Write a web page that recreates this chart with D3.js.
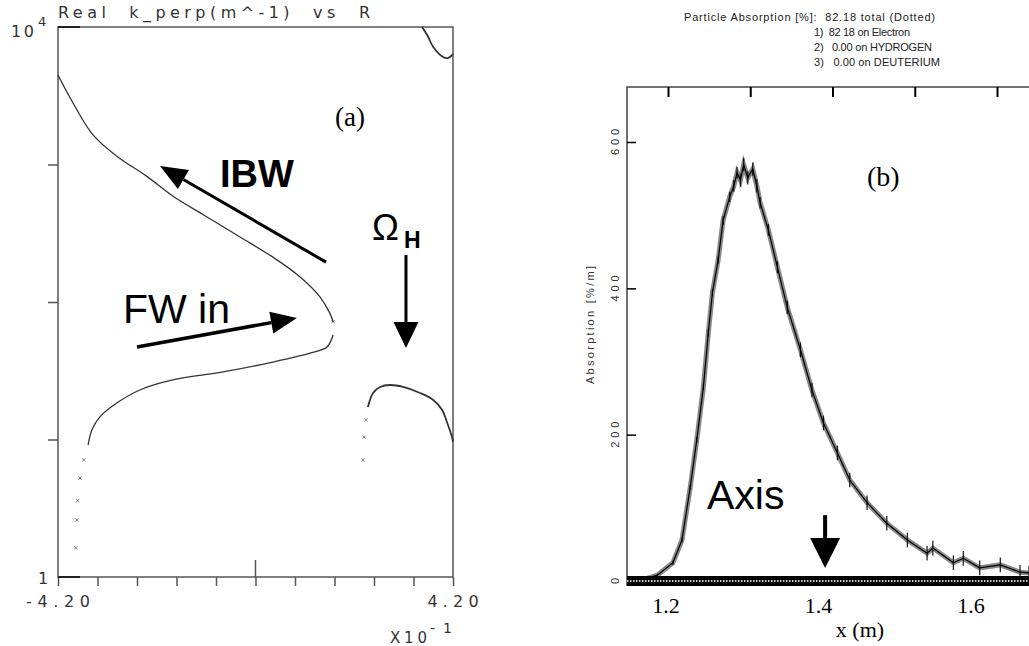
<!DOCTYPE html>
<html>
<head>
<meta charset="utf-8">
<script src="https://cdn.jsdelivr.net/npm/d3@7"></script>
<style>
body { margin: 0; background: #fff; }
svg { display: block; }
</style>
</head>
<body>
<svg id="chart" width="1029" height="646"></svg>
<script>
// panel (a): Real k_perp (m^-1) vs R [R, k]
var ibwBranch = [[-0.420, 4477], [-0.388, 2800], [-0.346, 1650], [-0.295, 1150], [-0.231, 820],
    [-0.176, 590], [-0.103, 415], [-0.033, 297], [0.037, 212], [0.095, 152], [0.137, 109],
    [0.158, 83], [0.165, 72]];
var fwBranch = [[0.165, 57.5], [0.152, 47], [0.122, 43], [0.037, 36.6], [-0.069, 31],
    [-0.176, 27.1], [-0.246, 22.9], [-0.295, 18.4], [-0.331, 14.6], [-0.348, 11.7], [-0.356, 9.1]];
var fwDots = [[-0.365, 7.1], [-0.373, 5.25], [-0.378, 3.6], [-0.380, 2.6], [-0.382, 1.63]];
var cornerBranch = [[0.354, 10000], [0.365, 8750], [0.378, 7160], [0.399, 6050], [0.409, 5950], [0.420, 6360]];
var humpDots = [[0.229, 7.1], [0.231, 10.4], [0.235, 13.9]];
var humpBranch = [[0.239, 17.2], [0.250, 21.8], [0.265, 24.1], [0.286, 24.9], [0.314, 24.1],
    [0.350, 21.8], [0.378, 19.4], [0.397, 16.4], [0.407, 13.4], [0.418, 10.4], [0.420, 9.6]];

var aXTicks = d3.range(11).map(function (i) { return -0.42 + i * 0.084; });
var aYTicks = [10, 100, 1000];
var aXLabels = ["-4.20", "4.20"];

// panel (b): absorption profile [%/m] vs x (m)
var absX = [1.150, 1.170, 1.187, 1.206, 1.217, 1.227, 1.235, 1.243, 1.249, 1.254, 1.261, 1.267,
    1.275, 1.280, 1.284, 1.288, 1.292, 1.297, 1.303, 1.308, 1.312, 1.322, 1.333, 1.345, 1.361,
    1.375, 1.389, 1.406, 1.421, 1.442, 1.466, 1.491, 1.515, 1.522, 1.547, 1.559, 1.579, 1.604,
    1.628, 1.639];
var absY = [0, 2, 8, 25, 56, 128, 193, 265, 339, 394, 439, 493, 525, 540, 558, 548, 569, 551,
    563, 540, 517, 480, 429, 374, 316, 261, 216, 175, 138, 107, 79, 56, 38, 45, 25, 31, 18, 22,
    12, 11];
var absErr = [0, 0, 2, 3, 3, 3, 4, 4, 5, 5, 5, 6, 7, 8, 8, 9, 9, 9, 9, 9, 8, 8, 8, 9, 10, 10,
    10, 10, 10, 10, 10, 10, 10, 10, 10, 10, 10, 10, 10, 10];

var bTopTicks = [1.2, 1.3, 1.4, 1.5, 1.6];
var bXLabels = [1.2, 1.4, 1.6];
var bYTicks = [0, 200, 400, 600];
var legendLines = ["Particle Absorption [%]:  82.18 total (Dotted)",
    "1)  82 18 on Electron",
    "2)   0.00 on HYDROGEN",
    "3)   0.00 on DEUTERIUM"];

var svg = d3.select("#chart");
var monoFont = "'DejaVu Sans', sans-serif";
var sansFont = "'Liberation Sans', Arial, sans-serif";
var serifFont = "'Liberation Serif', 'Times New Roman', serif";

// arrows: shaft plus filled triangular head
function arrow(g, x1, y1, x2, y2, headLen, headHalf, w) {
    var dx = x2 - x1, dy = y2 - y1, L = Math.sqrt(dx * dx + dy * dy);
    var ux = dx / L, uy = dy / L;
    var bx = x2 - ux * headLen, by = y2 - uy * headLen;
    g.append("line")
        .attr("x1", x1).attr("y1", y1).attr("x2", bx).attr("y2", by)
        .style("stroke", "#000").style("stroke-width", w + "px");
    g.append("path")
        .attr("d", "M" + x2 + "," + y2 +
            "L" + (bx - uy * headHalf) + "," + (by + ux * headHalf) +
            "L" + (bx + uy * headHalf) + "," + (by - ux * headHalf) + "Z")
        .style("fill", "#000");
}

// ---------- panel (a) ----------
var xA = d3.scaleLinear().domain([-0.42, 0.42]).range([58, 453]);
var yA = d3.scaleLog().domain([1, 1e4]).range([577, 27]);

var gA = svg.append("g");

gA.append("rect")
    .attr("x", xA(-0.42)).attr("y", yA(1e4))
    .attr("width", xA(0.42) - xA(-0.42)).attr("height", yA(1) - yA(1e4))
    .style("fill", "none").style("stroke", "#555").style("stroke-width", "1.5px");

var axA = gA.append("g")
    .attr("transform", "translate(0," + yA(1) + ")")
    .call(d3.axisBottom(xA).tickValues(aXTicks).tickSize(9).tickFormat(""));
axA.select(".domain").remove();
axA.selectAll("line").style("stroke", "#555").style("stroke-width", "1.5px");

gA.append("line")
    .attr("x1", xA(0)).attr("x2", xA(0))
    .attr("y1", yA(1)).attr("y2", yA(1) - 17)
    .style("stroke", "#555").style("stroke-width", "1.5px");

var ayA = gA.append("g")
    .attr("transform", "translate(" + xA(-0.42) + ",0)")
    .call(d3.axisLeft(yA).tickValues(aYTicks).tickSize(10).tickFormat(""));
ayA.select(".domain").remove();
ayA.selectAll("line").style("stroke", "#555").style("stroke-width", "1.5px");

// short marks inside the corners
[1, 1e4].forEach(function (v) {
    gA.append("line")
        .attr("x1", xA(-0.42)).attr("x2", xA(-0.42) + 22)
        .attr("y1", yA(v)).attr("y2", yA(v))
        .style("stroke", "#222").style("stroke-width", "2px");
});

gA.append("text")
    .attr("x", xA(-0.42)).attr("y", 18)
    .attr("textLength", 312).attr("lengthAdjust", "spacing")
    .style("font-family", monoFont).style("font-size", "16px").style("fill", "#333")
    .style("white-space", "pre")
    .text("Real  k_perp(m^-1)  vs  R");

gA.append("text").attr("x", 11).attr("y", 37)
    .attr("textLength", 23).attr("lengthAdjust", "spacing")
    .style("font-family", monoFont).style("font-size", "16px").style("fill", "#333").text("10");
gA.append("text").attr("x", 38).attr("y", 26)
    .style("font-family", monoFont).style("font-size", "13px").style("fill", "#333").text("4");
gA.append("text").attr("x", 38).attr("y", 584)
    .style("font-family", monoFont).style("font-size", "16px").style("fill", "#333").text("1");

gA.selectAll("text.xlab")
    .data(aXLabels)
    .enter().append("text")
    .attr("class", "xlab")
    .attr("x", function (d, i) { return xA(i === 0 ? -0.42 : 0.42); })
    .attr("y", 607)
    .attr("text-anchor", "middle")
    .attr("textLength", function (d) { return d.length * 12.8; })
    .attr("lengthAdjust", "spacing")
    .style("font-family", monoFont).style("font-size", "16px").style("fill", "#333")
    .text(function (d) { return d; });

gA.append("text").attr("x", 390).attr("y", 643)
    .attr("textLength", 37).attr("lengthAdjust", "spacing")
    .style("font-family", monoFont).style("font-size", "15px").style("fill", "#333").text("X10");
gA.append("text").attr("x", 430).attr("y", 633)
    .attr("textLength", 22).attr("lengthAdjust", "spacing")
    .style("font-family", monoFont).style("font-size", "14px").style("fill", "#333").text("-1");

var lineA = d3.line()
    .x(function (d) { return xA(d[0]); })
    .y(function (d) { return yA(d[1]); })
    .curve(d3.curveCatmullRom);

[ibwBranch, fwBranch, cornerBranch, humpBranch].forEach(function (b, i) {
    gA.append("path")
        .datum(b)
        .attr("d", lineA)
        .style("fill", "none")
        .style("stroke", "#333")
        .style("stroke-width", i >= 2 ? "1.8px" : "1.3px");
});

var xMark = d3.symbol().type(d3.symbolX).size(8);
gA.selectAll("path.dot")
    .data(fwDots.concat(humpDots, [ibwBranch[ibwBranch.length - 1]]))
    .enter().append("path")
    .attr("class", "dot")
    .attr("d", xMark)
    .attr("transform", function (d) { return "translate(" + xA(d[0]) + "," + yA(d[1]) + ")"; })
    .style("fill", "none").style("stroke", "#555").style("stroke-width", "0.8px");

arrow(gA, xA(0.150), yA(195), xA(-0.203), yA(975), 27, 11, 3);
arrow(gA, xA(-0.252), yA(47.1), xA(0.088), yA(76.5), 26, 11, 3.5);
arrow(gA, xA(0.320), yA(220), xA(0.320), yA(46.3), 26, 12.5, 3);

gA.append("text").attr("x", xA(0.201)).attr("y", yA(1905))
    .attr("text-anchor", "middle")
    .style("font-family", serifFont).style("font-size", "27px").text("(a)");
gA.append("text").attr("x", xA(-0.0755)).attr("y", yA(686))
    .style("font-family", sansFont).style("font-size", "38px").style("font-weight", "bold").text("IBW");
gA.append("text").attr("x", xA(-0.2818)).attr("y", yA(70.3))
    .style("font-family", sansFont).style("font-size", "41px").text("FW in");
gA.append("text").attr("x", xA(0.2478)).attr("y", yA(282))
    .style("font-family", sansFont).style("font-size", "36px").text("Ω");
gA.append("text").attr("x", xA(0.3158)).attr("y", yA(247))
    .style("font-family", sansFont).style("font-size", "23px").style("font-weight", "bold").text("H");

// ---------- panel (b) ----------
var xB = d3.scaleLinear().domain([1.2, 1.6]).range([668, 997]);
var xBLabel = d3.scaleLinear().domain([1.2, 1.6]).range([666, 971]);
var yB = d3.scaleLinear().domain([0, 600]).range([581, 142]);

var gB = svg.append("g");
var bLeft = 627, bTop = 87;

gB.append("path")
    .attr("d", "M" + bLeft + "," + (yB(0) + 5) + "V" + bTop + "H1029")
    .style("fill", "none").style("stroke", "#444").style("stroke-width", "1.5px");

var axB = gB.append("g")
    .attr("transform", "translate(0," + bTop + ")")
    .call(d3.axisTop(xB).tickValues(bTopTicks).tickSize(-10).tickFormat(""));
axB.select(".domain").remove();
axB.selectAll("line").style("stroke", "#000").style("stroke-width", "2px");

var ayB = gB.append("g")
    .attr("transform", "translate(" + bLeft + ",0)")
    .call(d3.axisLeft(yB).tickValues(bYTicks).tickSize(-9).tickFormat(""));
ayB.select(".domain").remove();
ayB.selectAll("line").style("stroke", "#000").style("stroke-width", "1.5px");

ayB.selectAll("text.ylab")
    .data(bYTicks)
    .enter().append("text")
    .attr("class", "ylab")
    .attr("transform", function (d) { return "translate(" + (-8) + "," + yB(d) + ") rotate(-90)"; })
    .attr("text-anchor", "middle")
    .attr("textLength", function (d) { return String(d).length * 8.7; })
    .attr("lengthAdjust", "spacing")
    .style("font-family", sansFont).style("font-size", "11px").style("fill", "#333")
    .text(function (d) { return d; });

gB.append("text")
    .attr("transform", "translate(594,325) rotate(-90)")
    .attr("text-anchor", "middle")
    .attr("textLength", 118).attr("lengthAdjust", "spacing")
    .style("font-family", sansFont).style("font-size", "11px").style("fill", "#333")
    .text("Absorption [%/m]");

gB.selectAll("text.leg")
    .data(legendLines)
    .enter().append("text")
    .attr("class", "leg")
    .attr("x", function (d, i) { return i === 0 ? 684 : 814; })
    .attr("y", function (d, i) { return 21 + i * 15; })
    .attr("textLength", function (d, i) { return [251, 96, 118, 126][i]; })
    .attr("lengthAdjust", "spacing")
    .style("font-family", sansFont).style("font-size", "11px").style("fill", "#222")
    .style("white-space", "pre")
    .text(function (d) { return d; });

var absData = absX.map(function (x, i) { return { x: x, y: absY[i], e: absErr[i] }; });

var lineB = d3.line()
    .x(function (d) { return xB(d.x); })
    .y(function (d) { return yB(d.y); })
    .curve(d3.curveLinear);

gB.append("path")
    .datum(absData)
    .attr("d", lineB)
    .style("fill", "none").style("stroke", "#888").style("stroke-width", "5px");

gB.selectAll("line.err")
    .data(absData.filter(function (d) { return d.e > 0; }))
    .enter().append("line")
    .attr("class", "err")
    .attr("x1", function (d) { return xB(d.x); })
    .attr("x2", function (d) { return xB(d.x); })
    .attr("y1", function (d) { return yB(d.y - d.e); })
    .attr("y2", function (d) { return yB(d.y + d.e); })
    .style("stroke", "#111").style("stroke-width", "1.2px");

gB.append("path")
    .datum(absData)
    .attr("d", lineB)
    .style("fill", "none").style("stroke", "#000").style("stroke-width", "1.2px");

// thick dotted total-absorption line along zero
gB.append("line")
    .attr("x1", bLeft).attr("x2", 1029)
    .attr("y1", yB(0)).attr("y2", yB(0))
    .style("stroke", "#000").style("stroke-width", "10px");
gB.append("line")
    .attr("x1", bLeft).attr("x2", 1029)
    .attr("y1", yB(0)).attr("y2", yB(0))
    .style("stroke", "#ccc").style("stroke-width", "2px").style("stroke-dasharray", "1.5 1.5");

gB.selectAll("text.xlab")
    .data(bXLabels)
    .enter().append("text")
    .attr("class", "xlab")
    .attr("x", function (d) { return xBLabel(d); })
    .attr("y", 613)
    .attr("text-anchor", "middle")
    .style("font-family", serifFont).style("font-size", "22px")
    .text(function (d) { return d.toFixed(1); });

gB.append("text")
    .attr("x", 860).attr("y", 637)
    .attr("text-anchor", "middle")
    .style("font-family", serifFont).style("font-size", "22px")
    .text("x (m)");

arrow(gB, xB(1.391), yB(90), xB(1.391), yB(17.8), 30, 15, 4);

gB.append("text").attr("x", xB(1.2474)).attr("y", yB(99))
    .style("font-family", sansFont).style("font-size", "41px").text("Axis");
gB.append("text").attr("x", xB(1.442)).attr("y", yB(540))
    .style("font-family", serifFont).style("font-size", "28px").text("(b)");
</script>
</body>
</html>
